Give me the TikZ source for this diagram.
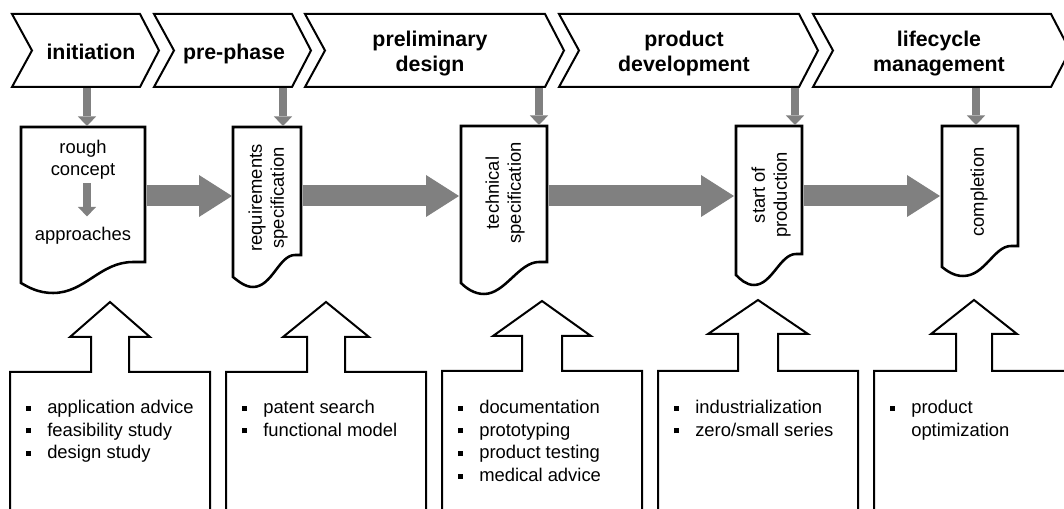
\documentclass[tikz,border=0pt]{standalone}
\usepackage{fontspec}
\setmainfont{Liberation Sans}
\usetikzlibrary{arrows.meta,calc}
\definecolor{flowgray}{RGB}{128,128,128}
% small square list bullet followed by the gap before the item text
\newcommand\sqb{\makebox[15.75pt][l]{\rule[2pt]{3.75pt}{3.75pt}}}
\newcommand\sqgap{\makebox[15.75pt][l]{}}

\begin{document}
\begin{tikzpicture}[x=0.75pt,y=-0.75pt,
  chevron/.style={draw=black,line width=1.5pt,fill=white,line join=miter},
  doc/.style={draw=black,line width=1.9pt,fill=white,line join=miter},
  inbox/.style={draw=black,line width=1.5pt,line join=miter},
  phase/.style={font=\fontsize{16}{18.75}\selectfont\bfseries,align=center,inner sep=0pt},
  doctext/.style={font=\fontsize{13.8}{16.5}\selectfont,align=center,inner sep=0pt},
  listtext/.style={font=\fontsize{13.8}{16.9}\selectfont,align=left,inner sep=0pt,anchor=north west},
  feed/.style={draw=flowgray,line width=6.3pt,
    -{Triangle[width=13.8pt,length=7.2pt,line width=0pt]}},
  flow/.style={draw=flowgray,line width=15.75pt,
    -{Triangle[width=31.5pt,length=24.75pt,line width=0pt]}}]
\useasboundingbox (0,0) rectangle (1064,509);
\clip (0,0) rectangle (1064,509);

% phase chevrons
\draw[chevron] (12,14) -- (140,14) -- (159,50.5) -- (140,87) -- (12,87) -- (32,50.5) -- cycle;
\draw[chevron] (154,14) -- (292,14) -- (311,50.5) -- (292,87) -- (154,87) -- (174,50.5) -- cycle;
\draw[chevron] (305,14) -- (545,14) -- (564,50.5) -- (545,87) -- (305,87) -- (325,50.5) -- cycle;
\draw[chevron] (559,14) -- (799,14) -- (818,50.5) -- (799,87) -- (559,87) -- (579,50.5) -- cycle;
\draw[chevron] (813,14) -- (1051,14) -- (1070,50.5) -- (1051,87) -- (813,87) -- (833,50.5) -- cycle;

\node[phase,anchor=base] (ph1) at (91,59.5) {initiation};
\node[phase,anchor=base] (ph2) at (234,59.5) {pre-phase};
\node[phase] (ph3) at (430,53.6) {preliminary\\design};
\node[phase] (ph4) at (684,53.6) {product\\development};
\node[phase] (ph5) at (939,53.6) {lifecycle\\management};

% milestone documents
\draw[doc] (21,127) -- (145,127) -- (145,262) -- (133,262)
  .. controls (100,262) and (85,293) .. (53,293)
  .. controls (38,293) and (28,287) .. (21,283) -- cycle;
\draw[doc] (233,127) -- (301,127) -- (301,255) -- (295,255)
  .. controls (279,255) and (272,287) .. (253,287)
  .. controls (245,287) and (238,281) .. (233,277) -- cycle;
\draw[doc] (461,126) -- (547,126) -- (547,262) -- (539,262)
  .. controls (519,262) and (505,294) .. (484,294)
  .. controls (474,294) and (466,288) .. (461,283) -- cycle;
\draw[doc] (736,126) -- (802,126) -- (802,254) -- (796,254)
  .. controls (780,254) and (772,285) .. (754,285)
  .. controls (746,285) and (740,279) .. (736,275) -- cycle;
\draw[doc] (942,126) -- (1018,126) -- (1018,246) -- (1011,246)
  .. controls (994,246) and (985,276) .. (963,276)
  .. controls (954,276) and (947,271) .. (942,267) -- cycle;

\node[doctext] (rc) at (83,159.6) {rough\\concept};
\node[doctext,anchor=base] (ap) at (83,240.7) {approaches};
\node[doctext,rotate=90] (rq) at (268,198) {requirements\\specification};
\node[doctext,rotate=90] (ts) at (505,193) {technical\\specification};
\node[doctext,rotate=90] (sp) at (771,195) {start of\\production};
\node[doctext,rotate=90] (cp) at (979,192) {completion};

% anchor points of the connectors
\coordinate (ph1-out) at (87,88);   \coordinate (d1-in) at (87,126);
\coordinate (ph2-out) at (283,88);  \coordinate (d2-in) at (283,126);
\coordinate (ph3-out) at (539,88);  \coordinate (d3-in) at (539,125);
\coordinate (ph4-out) at (795,88);  \coordinate (d4-in) at (795,125);
\coordinate (ph5-out) at (976,88);  \coordinate (d5-in) at (976,125);
\coordinate (d1-e) at (146.5,196); \coordinate (d2-w) at (232,196);
\coordinate (d2-e) at (302.5,196); \coordinate (d3-w) at (459,196);
\coordinate (d3-e) at (548.5,196); \coordinate (d4-w) at (734,196);
\coordinate (d4-e) at (803.5,196); \coordinate (d5-w) at (940,196);

% phase -> document
\draw[feed] (ph1-out) -- (d1-in);
\draw[feed] (ph2-out) -- (d2-in);
\draw[feed] (ph3-out) -- (d3-in);
\draw[feed] (ph4-out) -- (d4-in);
\draw[feed] (ph5-out) -- (d5-in);

% rough concept -> approaches
\draw[feed,shorten <=3pt,shorten >=8pt] ([xshift=3pt]rc.south) -- ([xshift=3pt]ap.north);

% document -> document
\draw[flow] (d1-e) -- (d2-w);
\draw[flow] (d2-e) -- (d3-w);
\draw[flow] (d3-e) -- (d4-w);
\draw[flow] (d4-e) -- (d5-w);

% activity boxes with hollow up-arrows
\draw[inbox] (10,520) -- (10,372) -- (91,372) -- (91,337) -- (70,337) -- (110,302)
  -- (150,337) -- (129,337) -- (129,372) -- (210,372) -- (210,520);
\draw[inbox] (226,520) -- (226,372) -- (307,372) -- (307,337) -- (283,337) -- (326,302)
  -- (369,337) -- (345,337) -- (345,372) -- (426,372) -- (426,520);
\draw[inbox] (442,520) -- (442,371) -- (522,371) -- (522,336) -- (493,336) -- (542,301)
  -- (591,336) -- (562,336) -- (562,371) -- (642,371) -- (642,520);
\draw[inbox] (658,520) -- (658,371) -- (738,371) -- (738,334) -- (708,334) -- (758,300)
  -- (808,334) -- (778,334) -- (778,371) -- (858,371) -- (858,520);
\draw[inbox] (874,520) -- (874,371) -- (956,371) -- (956,334) -- (931,334) -- (974,300)
  -- (1017,334) -- (992,334) -- (992,371) -- (1074,371) -- (1074,520);

\node[listtext] (b1) at (26,400) {\sqb application advice\\\sqb feasibility study\\\sqb design study};
\node[listtext] (b2) at (242,400) {\sqb patent search\\\sqb functional model};
\node[listtext] (b3) at (458,400) {\sqb documentation\\\sqb prototyping\\\sqb product testing\\\sqb medical advice};
\node[listtext] (b4) at (674,400) {\sqb industrialization\\\sqb zero/small series};
\node[listtext] (b5) at (890,400) {\sqb product\\\sqgap optimization};
\end{tikzpicture}
\end{document}
